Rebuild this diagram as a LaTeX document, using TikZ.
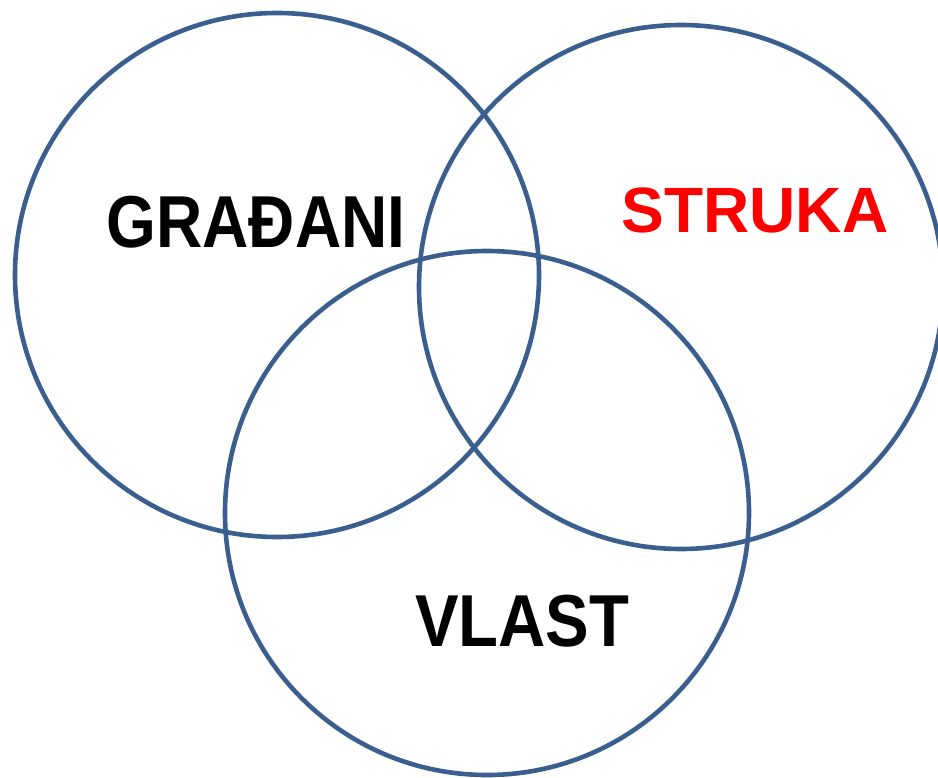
\documentclass[tikz,border=0pt]{standalone}
\usepackage{fontspec}
\setmainfont{Liberation Sans}
\definecolor{ringblue}{HTML}{3A5F8E}
\definecolor{strukared}{HTML}{FF0000}
\begin{document}
\begin{tikzpicture}[x=1pt,y=-1pt,
  ring/.style={circle, draw=ringblue, line width=4.6pt, minimum size=524pt, inner sep=0pt},
  label/.style={anchor=base, inner sep=0pt, font=\bfseries\fontsize{64}{64}\selectfont}]
\useasboundingbox (0,0) rectangle (938,778);
\node[ring] (gradjani) at (277,275) {};
\node[ring] (struka) at (681,287) {};
\node[ring] (vlast) at (487,513) {};
\node[label] (tg) at (256,248) {\scalebox{1}[1.15]{GRAĐANI}};
\node[label, text=strukared] (ts) at (755,233) {STRUKA};
\node[label] (tv) at (522,646) {\scalebox{1.02}[1.15]{VLAST}};
\end{tikzpicture}
\end{document}
